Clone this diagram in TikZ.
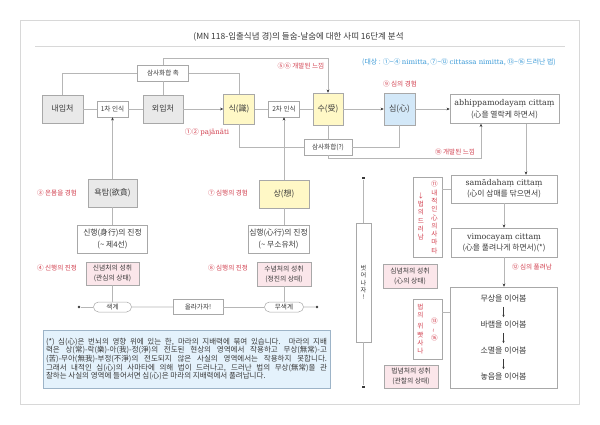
\documentclass[tikz,border=0pt]{standalone}
\usepackage{fontspec}
\setmainfont{Noto Sans CJK KR}
\newfontfamily\pali{DejaVu Serif}
\usetikzlibrary{arrows.meta,shapes.misc}
\newcommand{\fsz}[2]{\fontsize{#1}{#2}\selectfont}
\definecolor{linec}{HTML}{B6B6B6}
\definecolor{boxc}{HTML}{A8A8A8}
\definecolor{txt}{HTML}{3A3A3A}
\definecolor{redt}{HTML}{D2404F}
\definecolor{bluet}{HTML}{3C9BD8}
\definecolor{grayf}{HTML}{E9E9E9}
\definecolor{yelf}{HTML}{FFF8C6}
\definecolor{bluef}{HTML}{D3E8F8}
\definecolor{pinkf}{HTML}{FBE6EA}
\definecolor{notef}{HTML}{E4F2FC}
\definecolor{noteb}{HTML}{9DB4C8}
\definecolor{framec}{HTML}{D8D8D8}
\begin{document}
\begin{tikzpicture}[x=1pt,y=-1pt,
  box/.style={draw=boxc,line width=0.5pt,inner sep=1pt,text=txt,align=center},
  gbox/.style={box,fill=grayf,font=\fsz{8}{10}},
  ybox/.style={box,fill=yelf,font=\fsz{8}{10}},
  bbox/.style={box,fill=bluef,font=\fsz{8}{10}},
  sbox/.style={box,fill=white,font=\fsz{6.6}{8}},
  wbox/.style={box,fill=white,font=\fsz{7.8}{12}},
  pbox/.style={box,fill=pinkf,font=\fsz{6.8}{10}},
  oval/.style={rounded rectangle,draw=boxc,line width=0.5pt,fill=white,inner sep=0pt,minimum height=10pt,text=txt,font=\fsz{6.6}{8}},
  conn/.style={draw=linec,line width=0.55pt},
  arr/.style={conn,-{Stealth[length=3.2pt,width=2.8pt,color=txt]}},
  smarr/.style={draw=txt,line width=0.5pt,-{Stealth[length=2.4pt,width=2.2pt]},shorten <=4pt,shorten >=4pt},
  lbl/.style={text=redt,font=\fsz{6.6}{8},inner sep=0pt},
  vt/.style={text=redt,font=\fsz{6.6}{8.3},align=center,inner sep=0pt},
  item/.style={text=txt,font=\fsz{8}{10},inner sep=0pt},
  dotc/.style={circle,fill=txt,inner sep=0pt,minimum size=2.6pt},
  dsq/.style={rectangle,fill=txt,inner sep=0pt,minimum size=2.8pt},
]
\useasboundingbox (0,0) rectangle (600,425);
\fill[white] (0,0) rectangle (600,425);
\draw[framec,line width=0.6pt] (20,20) rectangle (579,404);

% title
\node[text=txt,font=\fsz{8.5}{10},inner sep=0pt] (title) at (298.5,37) {(MN 118-입출식념 경)의 들숨-날숨에 대한 사띠 16단계 분석};
\draw[framec,line width=0.6pt] (35,46) -- (565,46);
\node[text=bluet,font=\fsz{6.9}{8},inner sep=0pt] (note0) at (459,62) {(대상 : ①\textasciitilde④ {\pali nimitta}, ⑦\textasciitilde⑫ {\pali cittassa nimitta}, ⑬\textasciitilde⑯ 드러난 법)};

% top row
\node[gbox,minimum width=41pt,minimum height=28pt] (naeip) at (62.5,109) {내입처};
\node[sbox,minimum width=31pt,minimum height=16pt] (cha1) at (112.5,109) {1차 인식};
\node[gbox,minimum width=40pt,minimum height=28pt] (oeip) at (163,109) {외입처};
\node[ybox,minimum width=31pt,minimum height=30pt] (sik) at (239,109) {식(識)};
\node[sbox,minimum width=31pt,minimum height=16pt] (cha2) at (284,109) {2차 인식};
\node[ybox,minimum width=30pt,minimum height=32pt] (su) at (328,109) {수(受)};
\node[bbox,minimum width=31pt,minimum height=32pt] (sim) at (399.5,109) {심(心)};
\node[wbox,minimum width=109pt,minimum height=29pt] (abhi) at (504.5,109) {{\pali\fsz{8}{12}abhippamodayaṃ cittaṃ}\\(心을 열락케 하면서)};

\draw[conn] (naeip) -- (cha1);
\draw[conn] (cha1) -- (oeip);
\draw[arr] (oeip) -- (sik);
\draw[conn] (sik) -- (cha2);
\draw[conn] (cha2) -- (su);
\draw[arr] (su) -- (sim);
\draw[arr] (sim) -- (abhi);

% upper connector
\node[sbox,minimum width=51pt,minimum height=16pt] (chok) at (163,73) {삼사화합 촉};
\draw[conn] (naeip.north) |- (chok.west);
\draw[conn] (oeip) -- (chok);
\draw[conn] (chok.east) -| (sik.north);
\coordinate (t1) at (0,58);
\draw[arr] (chok.north) |- (t1 -| su.north) -- (su.north);
\node[lbl] (l56) at (301,66) {⑤⑥ 개발된 느낌};
\node[lbl] (l9) at (400,84) {⑨ 심의 경험};

% under row
\node[lbl,font=\fsz{7}{8}] (l12) at (207,132) {①② {\pali pajānāti}};
\node[sbox,minimum width=48pt,minimum height=16pt] (samsa2) at (328,147) {삼사화합(?)};
\draw[conn] (sik.south) |- (samsa2.west);
\draw[conn] (su) -- (samsa2);
\draw[conn] (samsa2.east) -| (sim.south);
\coordinate (k1) at (481,158);
\draw[arr] (samsa2.south) |- (k1) -- (k1 |- abhi.south);
\node[lbl] (l10) at (455,152) {⑩ 개발된 느낌};

% left column
\node[lbl] (l3) at (57,193) {③ 온몸을 경험};
\node[gbox,minimum width=49pt,minimum height=28pt] (yok) at (112.5,193) {욕탐(欲貪)};
\draw[arr] (yok) -- (cha1);
\node[wbox,minimum width=70pt,minimum height=28pt] (sinh) at (112.5,239) {신행(身行)의 진정\\(\textasciitilde\ 제4선)};
\draw[conn] (yok) -- (sinh);
\node[lbl] (l4) at (57,268) {④ 신행의 진정};
\node[pbox,minimum width=53pt,minimum height=23pt] (p1) at (112.5,273.5) {신념처의 성취\\(관심의 상태)};

% middle column
\node[lbl] (l7) at (228,193) {⑦ 심행의 경험};
\node[ybox,minimum width=50pt,minimum height=28pt] (sang) at (284,194) {상(想)};
\draw[arr] (sang) -- (cha2);
\node[wbox,minimum width=61pt,minimum height=28pt] (simh) at (278.5,239) {심행(心行)의 진정\\(\textasciitilde\ 무소유처)};
\draw[conn] (sang.south) -- (sang.south |- simh.north);
\node[lbl] (l8) at (228,268) {⑧ 심행의 진정};
\node[pbox,minimum width=54pt,minimum height=24pt] (p2) at (284,274) {수념처의 성취\\(정진의 상태)};

% bottom row
\node[dotc] (d1) at (79,307) {};
\node[oval,minimum width=38pt] (saek) at (112.5,307) {색계};
\node[sbox,minimum width=50pt,minimum height=15pt] (olla) at (198,307) {올라가자!};
\node[oval,minimum width=39pt] (musaek) at (284,307) {무색계};
\node[dotc] (d2) at (317,307) {};
\draw[conn] (d1) -- (saek);
\draw[conn] (saek) -- (olla);
\draw[conn] (olla) -- (musaek);
\draw[conn] (musaek) -- (d2);
\draw[conn] (p1) -- (saek);
\draw[conn] (p2) -- (musaek);

% footnote
\node[chamfered rectangle,chamfered rectangle xsep=6pt,chamfered rectangle ysep=6pt,draw=noteb,fill=notef,line width=0.6pt,minimum width=287pt,minimum height=58pt,inner sep=0pt] (note) at (186.5,359) {};
\node[text=txt,font=\fsz{7.5}{8.6},text width=281pt,align=justify,inner sep=0pt] (notetext) at (note.center) {(*) 심(心)은 번뇌의 영향 위에 있는 한, 마라의 지배력에 묶여 있습니다. 마라의 지배\linebreak 력은 상(常)-락(樂)-아(我)-정(淨)의 전도된 현상의 영역에서 작용하고 무상(無常)-고\linebreak (苦)-무아(無我)-부정(不淨)의 전도되지 않은 사실의 영역에서는 작용하지 못합니다.\linebreak 그래서 내적인 심(心)의 사마타에 의해 법이 드러나고, 드러난 법의 무상(無常)을 관\linebreak 찰하는 사실의 영역에 들어서면 심(心)은 마라의 지배력에서 풀려납니다.};

% escape column
\node[dsq] (q1) at (363.5,178) {};
\node[box,fill=white,minimum width=15pt,minimum height=119pt,font=\fsz{6.2}{7.2},inner sep=0pt] (beot) at (363.5,282.5) {벗\\어\\나\\자\\!};
\node[dsq] (q2) at (363.5,387) {};
\draw[conn] (q1) -- (beot);
\draw[conn] (beot) -- (q2);

% right column
\coordinate (k2) at (526,0);
\node[wbox,minimum width=106pt,minimum height=28pt,font=\fsz{7.8}{11}] (samadh) at (504,189) {{\pali\fsz{8}{11}samādahaṃ cittaṃ}\\(心이 삼매를 닦으면서)};
\draw[arr] (k2 |- abhi.south) -- (k2 |- samadh.north);
\node[wbox,minimum width=106pt,minimum height=29pt,font=\fsz{7.8}{11}] (vimoc) at (504,242.5) {{\pali\fsz{8}{11}vimocayaṃ cittaṃ}\\(心을 풀려나게 하면서)(*)};
\draw[arr] (samadh) -- (vimoc);
\node[lbl] (l12b) at (532,267) {⑫ 심의 풀려남};
\node[box,fill=white,minimum width=107pt,minimum height=101pt] (obs) at (503.5,337.5) {};
\draw[arr] (vimoc.south) -- (vimoc.south |- obs.north);
\node[item] (o1) at (503.5,299) {무상을 이어봄};
\node[item] (o2) at (503.5,325) {바램을 이어봄};
\node[item] (o3) at (503.5,351) {소멸을 이어봄};
\node[item] (o4) at (503.5,377) {놓음을 이어봄};
\draw[smarr] (o1) -- (o2);
\draw[smarr] (o2) -- (o3);
\draw[smarr] (o3) -- (o4);

% red vertical boxes
\node[box,fill=white,minimum width=29pt,minimum height=80pt] (vb1) at (427.5,217) {};
\node[vt] (vb1r) at (434.5,217.5) {⑪\\내\\적\\인\\心\\의\\사\\마\\타};
\node[vt] (vb1l) at (421,216.5) {↓\\법\\의\\드\\러\\남};
\draw[conn] (vb1.east |- samadh.west) -- (samadh.west);

\node[box,fill=white,minimum width=29pt,minimum height=60pt] (vb2) at (427.5,329) {};
\node[vt] (vb2l) at (420.5,329) {법\\의\\[3pt]위\\빳\\사\\나};
\node[vt] (vb2r) at (434.5,329.5) {⑬\\\rotatebox{90}{\textasciitilde}\\⑯};
\coordinate (k3) at (0,312);
\draw[conn] (vb2.east |- k3) -- (obs.west |- k3);

% pink boxes right
\node[pbox,minimum width=54pt,minimum height=24pt] (p3) at (410,276) {심념처의 성취\\(心의 상태)};
\node[pbox,minimum width=54pt,minimum height=23pt] (p4) at (411,376.5) {법념처의 성취\\(관찰의 상태)};
\end{tikzpicture}
\end{document}
